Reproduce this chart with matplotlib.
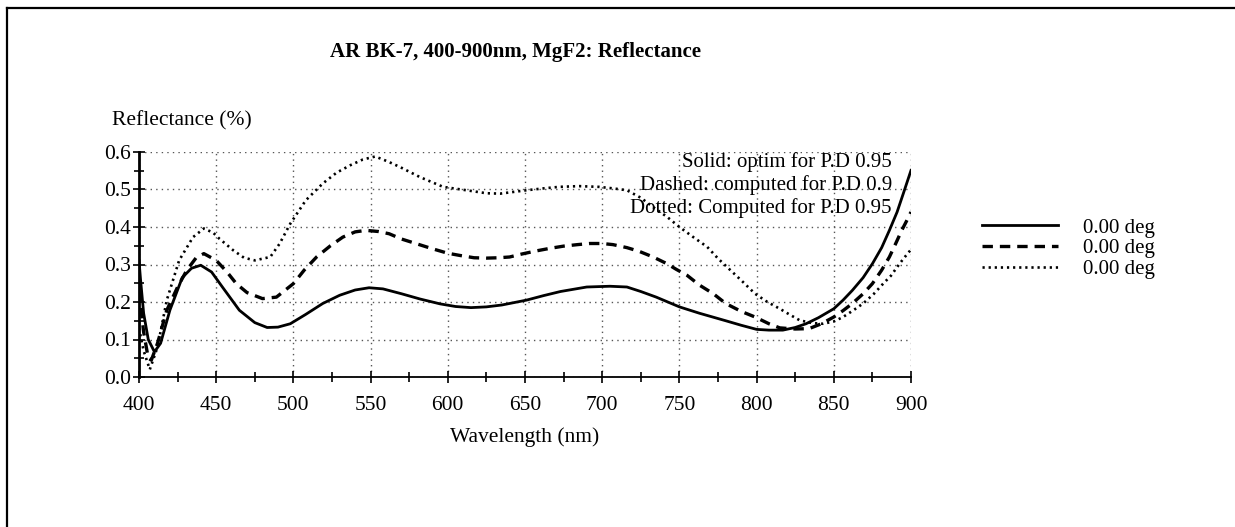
import matplotlib
matplotlib.use("Agg")
import matplotlib.pyplot as plt
from matplotlib.lines import Line2D
from matplotlib.ticker import MultipleLocator, FormatStrFormatter

plt.rcParams['font.family'] = ['Liberation Serif', 'DejaVu Serif']
plt.rcParams['lines.scale_dashes'] = False

# solid: optim for P.D 0.95
solid_wl = [400, 401, 403, 406, 410, 414, 420, 428, 434, 440, 447, 454, 465, 475, 483,
            490, 498, 508, 519, 530, 540, 549, 558, 570, 582, 595, 605, 615, 625, 635,
            651, 662, 673, 690, 705, 716, 725, 735, 750, 763, 780, 790, 800, 808, 817,
            825, 832, 840, 850, 856, 862, 869, 875, 881, 886, 891, 895, 900]
solid_r = [0.31, 0.26, 0.17, 0.10, 0.067, 0.09, 0.178, 0.265, 0.29, 0.298, 0.28, 0.24, 0.178, 0.145, 0.132,
           0.133, 0.142, 0.167, 0.196, 0.218, 0.232, 0.238, 0.235, 0.222, 0.208, 0.195, 0.188, 0.185, 0.187, 0.192,
           0.205, 0.217, 0.228, 0.24, 0.242, 0.24, 0.228, 0.213, 0.187, 0.17, 0.15, 0.138, 0.127, 0.125, 0.125,
           0.132, 0.142, 0.158, 0.182, 0.205, 0.231, 0.265, 0.302, 0.345, 0.391, 0.44, 0.489, 0.551]

# dashed: computed for P.D 0.9
dashed_wl = [400, 403, 406, 408, 412, 418, 425, 431, 437, 442, 450, 457, 463, 470, 480,
             489, 500, 507, 515, 524, 532, 540, 547, 555, 562, 570, 580, 590, 600, 608,
             617, 625, 633, 640, 648, 657, 666, 675, 684, 692, 700, 707, 716, 724, 733,
             742, 748, 755, 763, 772, 780, 790, 799, 808, 815, 825, 834, 842, 850, 856,
             862, 869, 875, 881, 886, 890, 894, 897, 900]
dashed_r = [0.23, 0.12, 0.05, 0.045, 0.09, 0.178, 0.24, 0.285, 0.318, 0.329, 0.311, 0.28, 0.249, 0.225, 0.209,
            0.213, 0.249, 0.285, 0.32, 0.35, 0.373, 0.387, 0.391, 0.388, 0.382, 0.368, 0.355, 0.342, 0.33, 0.324,
            0.318, 0.317, 0.318, 0.32, 0.328, 0.336, 0.343, 0.349, 0.353, 0.356, 0.356, 0.353, 0.345, 0.335, 0.32,
            0.302, 0.287, 0.271, 0.245, 0.222, 0.196, 0.175, 0.16, 0.142, 0.131, 0.128, 0.129, 0.142, 0.16, 0.177,
            0.196, 0.222, 0.249, 0.285, 0.32, 0.355, 0.391, 0.415, 0.44]

# dotted: computed for P.D 0.95
dotted_wl = [400, 403, 407, 412, 418, 426, 435, 442, 448, 452, 461, 468, 475, 485, 491,
             498, 508, 519, 528, 537, 545, 553, 561, 569, 582, 597, 612, 625, 634, 651,
             662, 672, 685, 698, 707, 716, 725, 733, 742, 750, 759, 768, 775, 783, 790,
             799, 807, 815, 822, 828, 836, 843, 850, 856, 862, 869, 876, 882, 887, 891,
             895, 900]
dotted_r = [0.13, 0.07, 0.02, 0.08, 0.205, 0.311, 0.373, 0.396, 0.385, 0.369, 0.338, 0.318, 0.311, 0.32, 0.355,
            0.409, 0.471, 0.516, 0.545, 0.565, 0.58, 0.588, 0.575, 0.56, 0.533, 0.507, 0.498, 0.49, 0.489, 0.498,
            0.503, 0.507, 0.509, 0.507, 0.503, 0.498, 0.478, 0.453, 0.427, 0.4, 0.373, 0.347, 0.316, 0.285, 0.258,
            0.222, 0.2, 0.182, 0.165, 0.151, 0.144, 0.142, 0.148, 0.16, 0.176, 0.196, 0.222, 0.249, 0.27, 0.293,
            0.315, 0.34]

notes = ["Solid: optim for P.D 0.95", "Dashed: computed for P.D 0.9", "Dotted: Computed for P.D 0.95"]
labels = ["0.00 deg", "0.00 deg", "0.00 deg"]

W, H = 1235, 527
fig = plt.figure(figsize=(W / 100, H / 100), dpi=100)
ax = fig.add_axes([139 / W, 1 - 377 / H, 772 / W, 225 / H])

l1, = ax.plot(solid_wl, solid_r, color='black', lw=2.0)
l2, = ax.plot(dashed_wl, dashed_r, color='black', lw=2.4, dashes=(7.5, 5))
l3, = ax.plot(dotted_wl, dotted_r, color='black', lw=1.9, dashes=(1.6, 2.8))

ax.set_xlim(400, 900)
ax.set_ylim(0, 0.6)
ax.xaxis.set_major_locator(MultipleLocator(50))
ax.xaxis.set_minor_locator(MultipleLocator(25))
ax.yaxis.set_major_locator(MultipleLocator(0.1))
ax.yaxis.set_minor_locator(MultipleLocator(0.05))
ax.yaxis.set_major_formatter(FormatStrFormatter('%.1f'))
ax.grid(True, which='major', color='#555555', lw=1, dashes=(1, 3))
ax.tick_params(which='both', direction='inout', labelsize=15.5, width=1.2, colors='black')
ax.tick_params(which='major', length=9)
ax.tick_params(which='minor', length=7)
ax.tick_params(axis='x', pad=9)
ax.tick_params(axis='y', pad=1)
for s in ['top', 'right']:
    ax.spines[s].set_visible(False)
ax.spines['left'].set_linewidth(2)
ax.spines['bottom'].set_linewidth(1.3)

for txt, ypx in zip(notes, [162, 185, 208]):
    ax.text(892 / W, 1 - ypx / H, txt, transform=fig.transFigure, ha='right', va='center', fontsize=15)

fig.text(516 / W, 1 - 52 / H, "AR BK-7, 400-900nm, MgF2: Reflectance", ha='center', va='center',
         fontsize=15, fontweight='bold')
fig.text(112 / W, 1 - 121 / H, "Reflectance (%)", ha='left', va='center', fontsize=15.5)
fig.text(525 / W, 1 - 437 / H, "Wavelength (nm)", ha='center', va='center', fontsize=15.5)

fig.legend([l1, l2, l3], labels, loc='upper left', bbox_to_anchor=(982 / W, 1 - 218 / H),
           frameon=False, fontsize=15, handlelength=3.65, handletextpad=1.2, labelspacing=0.05,
           borderpad=0, borderaxespad=0)

fig.add_artist(Line2D([6.5 / W, 6.5 / W], [0, 1 - 8 / H], transform=fig.transFigure, color='black', lw=1.6))
fig.add_artist(Line2D([6.5 / W, 1], [1 - 8 / H, 1 - 8 / H], transform=fig.transFigure, color='black', lw=1.6))

fig.savefig("out.png", dpi=100)
